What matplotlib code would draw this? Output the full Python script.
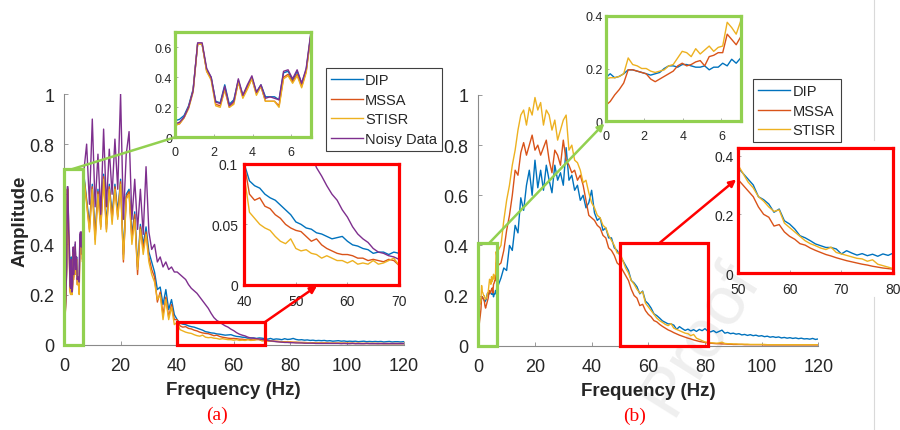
import numpy as np
import matplotlib
matplotlib.use("Agg")
import matplotlib.pyplot as plt
from matplotlib.patches import Rectangle, ConnectionPatch
from matplotlib.lines import Line2D

plt.rcParams['font.family'] = ['Liberation Sans', 'DejaVu Sans']

# ---------------- data ----------------
# fine grid for the 0-7 Hz zoom (31 samples)
freq_zoom = np.linspace(0, 7, 31)
# 1 Hz grid for 8-120 Hz
freq_main = np.arange(8, 121)

# panel (a), 0-7 Hz
dip_a_zoom = [0.11, 0.12, 0.145, 0.21, 0.32, 0.62, 0.62, 0.45, 0.40, 0.24, 0.23, 0.35, 0.22, 0.25, 0.38, 0.28,
              0.34, 0.40, 0.30, 0.35, 0.27, 0.27, 0.27, 0.25, 0.43, 0.44, 0.38, 0.44, 0.36, 0.45, 0.68]
mssa_a_zoom = [0.08, 0.09, 0.13, 0.20, 0.31, 0.62, 0.62, 0.44, 0.39, 0.22, 0.21, 0.32, 0.20, 0.23, 0.37, 0.27,
               0.33, 0.39, 0.29, 0.34, 0.24, 0.24, 0.24, 0.21, 0.40, 0.42, 0.37, 0.42, 0.34, 0.44, 0.67]
stisr_a_zoom = [0.08, 0.09, 0.13, 0.19, 0.30, 0.62, 0.62, 0.44, 0.38, 0.21, 0.20, 0.32, 0.20, 0.22, 0.37, 0.26,
                0.32, 0.39, 0.28, 0.34, 0.24, 0.24, 0.24, 0.20, 0.39, 0.41, 0.36, 0.41, 0.33, 0.43, 0.67]
noisy_a_zoom = [0.09, 0.10, 0.135, 0.20, 0.31, 0.63, 0.63, 0.46, 0.40, 0.235, 0.225, 0.34, 0.21, 0.24, 0.39, 0.28,
                0.35, 0.41, 0.30, 0.35, 0.26, 0.27, 0.26, 0.25, 0.44, 0.45, 0.39, 0.45, 0.36, 0.46, 0.69]

# panel (a), 8-120 Hz
noisy_a = [0.80, 0.56, 0.90, 0.55, 0.76, 0.52, 0.86, 0.55, 0.78, 0.60,
           0.82, 0.62, 1.00, 0.50, 0.76, 0.85, 0.50, 0.66, 0.46, 0.62,
           0.44, 0.71, 0.45, 0.38, 0.40, 0.33, 0.35, 0.31, 0.33, 0.30,
           0.31, 0.29, 0.29, 0.28, 0.27, 0.26, 0.24, 0.225, 0.215, 0.205,
           0.19, 0.175, 0.16, 0.145, 0.125, 0.108, 0.097, 0.09, 0.082, 0.075,
           0.07, 0.062, 0.056, 0.048, 0.042, 0.038, 0.035, 0.03, 0.027, 0.026,
           0.024, 0.023, 0.021, 0.019, 0.017, 0.015, 0.014, 0.012, 0.011, 0.010,
           0.009, 0.009, 0.008, 0.008, 0.007, 0.007, 0.007, 0.006, 0.006, 0.006,
           0.006, 0.005, 0.005, 0.005, 0.005, 0.005, 0.005, 0.005, 0.005, 0.005,
           0.004, 0.005, 0.004, 0.004, 0.005, 0.004, 0.004, 0.004, 0.004, 0.005,
           0.004, 0.004, 0.004, 0.004, 0.004, 0.004, 0.004, 0.004, 0.004, 0.004,
           0.004, 0.004, 0.004]
dip_a = [0.58, 0.48, 0.64, 0.44, 0.62, 0.49, 0.68, 0.48, 0.64, 0.52,
         0.64, 0.53, 0.66, 0.36, 0.60, 0.62, 0.44, 0.53, 0.31, 0.48,
         0.40, 0.47, 0.37, 0.33, 0.29, 0.22, 0.23, 0.16, 0.22, 0.14,
         0.18, 0.12, 0.10, 0.086, 0.082, 0.08, 0.075, 0.072, 0.07, 0.066,
         0.062, 0.058, 0.052, 0.05, 0.047, 0.046, 0.043, 0.042, 0.04, 0.038,
         0.039, 0.04, 0.036, 0.033, 0.032, 0.03, 0.029, 0.026, 0.027, 0.027,
         0.025, 0.027, 0.026, 0.024, 0.022, 0.025, 0.021, 0.023, 0.022, 0.020,
         0.024, 0.021, 0.022, 0.025, 0.021, 0.019, 0.020, 0.018, 0.019, 0.017,
         0.018, 0.016, 0.017, 0.016, 0.017, 0.015, 0.016, 0.014, 0.015, 0.016,
         0.014, 0.015, 0.013, 0.014, 0.013, 0.014, 0.012, 0.013, 0.014, 0.012,
         0.013, 0.012, 0.013, 0.012, 0.013, 0.011, 0.012, 0.013, 0.011, 0.012,
         0.012, 0.011, 0.012]
mssa_a = [0.57, 0.46, 0.63, 0.42, 0.61, 0.47, 0.67, 0.46, 0.63, 0.50,
          0.63, 0.51, 0.65, 0.33, 0.59, 0.61, 0.42, 0.52, 0.28, 0.47,
          0.38, 0.45, 0.35, 0.30, 0.27, 0.17, 0.21, 0.12, 0.19, 0.11,
          0.16, 0.10, 0.10, 0.075, 0.07, 0.072, 0.065, 0.063, 0.058, 0.055,
          0.05, 0.047, 0.045, 0.044, 0.04, 0.036, 0.038, 0.033, 0.03, 0.028,
          0.026, 0.025, 0.025, 0.024, 0.022, 0.022, 0.02, 0.021, 0.02, 0.019,
          0.021, 0.02, 0.016, 0.017, 0.016, 0.015, 0.014, 0.014, 0.013, 0.012,
          0.012, 0.011, 0.011, 0.010, 0.010, 0.009, 0.009, 0.009, 0.008, 0.008,
          0.008, 0.007, 0.007, 0.007, 0.007, 0.007, 0.006, 0.006, 0.006, 0.006,
          0.006, 0.006, 0.006, 0.006, 0.006, 0.005, 0.006, 0.005, 0.005, 0.005,
          0.005, 0.005, 0.005, 0.005, 0.005, 0.005, 0.005, 0.005, 0.005, 0.005,
          0.005, 0.005, 0.005]
stisr_a = [0.56, 0.45, 0.62, 0.40, 0.60, 0.46, 0.66, 0.45, 0.62, 0.48,
           0.62, 0.50, 0.64, 0.34, 0.58, 0.60, 0.40, 0.50, 0.30, 0.46,
           0.36, 0.44, 0.33, 0.28, 0.25, 0.18, 0.20, 0.10, 0.18, 0.10,
           0.15, 0.08, 0.09, 0.06, 0.055, 0.05, 0.047, 0.045, 0.04, 0.036,
           0.034, 0.038, 0.03, 0.028, 0.029, 0.026, 0.025, 0.022, 0.024, 0.022,
           0.02, 0.02, 0.018, 0.02, 0.017, 0.018, 0.017, 0.02, 0.017, 0.018,
           0.02, 0.022, 0.016, 0.017, 0.015, 0.014, 0.013, 0.013, 0.012, 0.011,
           0.011, 0.010, 0.010, 0.009, 0.009, 0.009, 0.008, 0.008, 0.008, 0.008,
           0.007, 0.007, 0.007, 0.006, 0.007, 0.006, 0.006, 0.006, 0.006, 0.006,
           0.006, 0.005, 0.006, 0.005, 0.005, 0.005, 0.005, 0.005, 0.005, 0.005,
           0.005, 0.005, 0.005, 0.004, 0.005, 0.004, 0.004, 0.004, 0.004, 0.004,
           0.004, 0.004, 0.004]

# panel (b), 0-7 Hz
dip_b_zoom = [0.165, 0.18, 0.165, 0.17, 0.18, 0.195, 0.195, 0.19, 0.185, 0.18, 0.175, 0.18, 0.185, 0.20, 0.21, 0.21,
              0.205, 0.215, 0.215, 0.21, 0.205, 0.205, 0.21, 0.195, 0.205, 0.205, 0.22, 0.21, 0.235, 0.22, 0.24]
mssa_b_zoom = [0.06, 0.075, 0.10, 0.12, 0.145, 0.195, 0.195, 0.19, 0.185, 0.18, 0.16, 0.15, 0.16, 0.17, 0.18, 0.19,
               0.21, 0.22, 0.21, 0.215, 0.225, 0.23, 0.21, 0.245, 0.25, 0.26, 0.26, 0.33, 0.31, 0.29, 0.32]
stisr_b_zoom = [0.16, 0.165, 0.165, 0.17, 0.18, 0.24, 0.215, 0.21, 0.20, 0.20, 0.19, 0.185, 0.19, 0.195, 0.21, 0.215,
                0.24, 0.265, 0.26, 0.245, 0.275, 0.255, 0.27, 0.285, 0.265, 0.28, 0.285, 0.375, 0.355, 0.33, 0.38]

# panel (b), 8-120 Hz
dip_b = [0.27, 0.31, 0.30, 0.40, 0.38, 0.48, 0.45, 0.59, 0.54, 0.64,
         0.70, 0.60, 0.74, 0.63, 0.70, 0.62, 0.72, 0.66, 0.61, 0.72,
         0.66, 0.69, 0.64, 0.79, 0.66, 0.68, 0.62, 0.64, 0.58, 0.60,
         0.55, 0.57, 0.62, 0.53, 0.50, 0.51, 0.46, 0.47, 0.43, 0.43,
         0.39, 0.38, 0.36, 0.34, 0.32, 0.30, 0.26, 0.25, 0.235, 0.207,
         0.218, 0.178, 0.167, 0.15, 0.127, 0.12, 0.11, 0.099, 0.093, 0.087,
         0.087, 0.082, 0.065, 0.076, 0.068, 0.061, 0.066, 0.059, 0.064, 0.057,
         0.065, 0.06, 0.068, 0.058, 0.055, 0.06, 0.052, 0.057, 0.062, 0.05,
         0.053, 0.048, 0.05, 0.046, 0.048, 0.043, 0.045, 0.041, 0.044, 0.04,
         0.042, 0.038, 0.04, 0.036, 0.038, 0.034, 0.036, 0.033, 0.035, 0.031,
         0.033, 0.03, 0.032, 0.029, 0.031, 0.028, 0.03, 0.027, 0.028, 0.026,
         0.029, 0.025, 0.027]
mssa_b = [0.33, 0.38, 0.46, 0.52, 0.60, 0.70, 0.68, 0.77, 0.81, 0.76,
          0.80, 0.84, 0.78, 0.80, 0.76, 0.79, 0.82, 0.74, 0.69, 0.78,
          0.76, 0.72, 0.82, 0.74, 0.72, 0.69, 0.70, 0.66, 0.68, 0.64,
          0.58, 0.52, 0.51, 0.50, 0.48, 0.47, 0.44, 0.43, 0.39, 0.38,
          0.36, 0.33, 0.32, 0.30, 0.28, 0.26, 0.225, 0.20, 0.19, 0.16,
          0.165, 0.14, 0.125, 0.115, 0.10, 0.095, 0.085, 0.077, 0.07, 0.063,
          0.058, 0.052, 0.047, 0.042, 0.038, 0.034, 0.03, 0.027, 0.023, 0.02,
          0.017, 0.015, 0.013, 0.011, 0.010, 0.009, 0.008, 0.008, 0.007, 0.007,
          0.006, 0.006, 0.005, 0.005, 0.005, 0.005, 0.004, 0.004, 0.004, 0.004,
          0.004, 0.004, 0.004, 0.003, 0.003, 0.003, 0.003, 0.003, 0.003, 0.003,
          0.003, 0.003, 0.003, 0.003, 0.003, 0.003, 0.003, 0.003, 0.003, 0.003,
          0.003, 0.003, 0.003]
stisr_b = [0.40, 0.50, 0.58, 0.64, 0.72, 0.78, 0.86, 0.92, 0.94, 0.88,
           0.95, 0.92, 0.99, 0.94, 0.97, 0.88, 0.94, 0.92, 0.86, 0.90,
           0.82, 0.86, 0.90, 0.92, 0.78, 0.80, 0.74, 0.73, 0.70, 0.65,
           0.66, 0.61, 0.57, 0.55, 0.52, 0.51, 0.48, 0.47, 0.44, 0.42,
           0.40, 0.37, 0.37, 0.34, 0.31, 0.29, 0.26, 0.245, 0.225, 0.21,
           0.215, 0.17, 0.155, 0.14, 0.125, 0.11, 0.10, 0.093, 0.085, 0.08,
           0.088, 0.07, 0.065, 0.06, 0.055, 0.05, 0.048, 0.04, 0.045, 0.03,
           0.025, 0.02, 0.015, 0.013, 0.012, 0.011, 0.010, 0.011, 0.014, 0.009,
           0.008, 0.008, 0.007, 0.007, 0.006, 0.006, 0.006, 0.006, 0.005, 0.005,
           0.005, 0.005, 0.005, 0.005, 0.004, 0.004, 0.004, 0.004, 0.004, 0.004,
           0.004, 0.004, 0.004, 0.004, 0.004, 0.004, 0.004, 0.004, 0.004, 0.004,
           0.004, 0.004, 0.004]

labels_a = ['DIP', 'MSSA', 'STISR', 'Noisy Data']
labels_b = ['DIP', 'MSSA', 'STISR']
main_xticks = [0, 20, 40, 60, 80, 100, 120]
main_xticklabels = ['0', '20', '40', '60', '80', '100', '120']
main_yticks = [0, 0.2, 0.4, 0.6, 0.8, 1.0]
main_yticklabels = ['0', '0.2', '0.4', '0.6', '0.8', '1']

# ---------------- style ----------------
C_DIP, C_MSSA, C_STISR, C_NOISY = '#0072BD', '#D95319', '#EDB120', '#7E2F8E'
GREEN, RED = '#92D050', '#FF0000'
TXT = '#262626'
W, H = 900, 431
LW = 1.0

fig = plt.figure(figsize=(9, 4.31), dpi=100)


def px(l, t, r, b):
    return [l / W, 1 - b / H, (r - l) / W, (b - t) / H]


def style_main(ax):
    ax.set_xlim(0, 120)
    ax.set_ylim(0, 1)
    ax.patch.set_alpha(0)
    for s in ['top', 'right']:
        ax.spines[s].set_visible(False)
    for s in ['left', 'bottom']:
        ax.spines[s].set_color('#8a8a8a')
        ax.spines[s].set_linewidth(0.8)
    ax.set_xticks(main_xticks)
    ax.set_xticklabels(main_xticklabels)
    ax.set_yticks(main_yticks)
    ax.set_yticklabels(main_yticklabels)
    ax.tick_params(direction='in', length=3, width=0.6, color='#8a8a8a',
                   labelsize=13, labelcolor=TXT)
    ax.tick_params(axis='x', pad=9)
    ax.tick_params(axis='y', pad=7)


def style_inset(ax, color, xlim, ylim, xt, xtl, yt, ytl, fs, xpad, ypad):
    ax.set_xlim(xlim)
    ax.set_ylim(ylim)
    for s in ax.spines.values():
        s.set_color(color)
        s.set_linewidth(2.3)
    ax.set_xticks(xt)
    ax.set_xticklabels(xtl)
    ax.set_yticks(yt)
    ax.set_yticklabels(ytl)
    ax.tick_params(direction='in', length=2, width=0.5, color='#8a8a8a',
                   labelsize=fs, labelcolor=TXT)
    ax.tick_params(axis='x', pad=xpad)
    ax.tick_params(axis='y', pad=ypad)


freq_a = np.concatenate([freq_zoom, freq_main])

# watermark (behind everything)
fig.text(700 / W, 1 - 338 / H, 'Proof', rotation=58, fontsize=50, color='#efefef',
         ha='center', va='center', zorder=-1)

# ---------------- panel (a) ----------------
ax_a = fig.add_axes(px(64, 95, 403.5, 345.7))
style_main(ax_a)
la = []
for z, m, c in [(dip_a_zoom, dip_a, C_DIP), (mssa_a_zoom, mssa_a, C_MSSA),
                (stisr_a_zoom, stisr_a, C_STISR), (noisy_a_zoom, noisy_a, C_NOISY)]:
    l, = ax_a.plot(freq_a, np.concatenate([z, m]), color=c, lw=LW)
    la.append(l)
ax_a.add_patch(Rectangle((0, 0), 6.7, 0.7, fill=False, ec=GREEN, lw=2.3, zorder=5, clip_on=False))
ax_a.add_patch(Rectangle((40, 0), 31, 0.09, fill=False, ec=RED, lw=2.3, zorder=5, clip_on=False))

leg_a = ax_a.legend(la, labels_a, loc='upper left', bbox_to_anchor=(325.7 / W, 1 - 69.3 / H),
                    bbox_transform=fig.transFigure, fontsize=10.5, frameon=True, fancybox=False,
                    edgecolor='#404040', framealpha=1, handlelength=2.2, handletextpad=0.15,
                    labelspacing=0.38, borderpad=0.35, borderaxespad=0)
leg_a.get_frame().set_linewidth(0.8)
for t in leg_a.get_texts():
    t.set_color(TXT)

ins_ag = fig.add_axes(px(175, 33.3, 310.7, 138.3))
for z, c in [(dip_a_zoom, C_DIP), (mssa_a_zoom, C_MSSA), (stisr_a_zoom, C_STISR), (noisy_a_zoom, C_NOISY)]:
    ins_ag.plot(freq_zoom, z, color=c, lw=LW)
style_inset(ins_ag, GREEN, (0, 7), (0, 0.7), [0, 2, 4, 6], ['0', '2', '4', '6'],
            [0, 0.2, 0.4, 0.6], ['0', '0.2', '0.4', '0.6'], 9, 6.5, 2)

ins_ar = fig.add_axes(px(244.3, 165, 399, 285.7))
for z, m, c in [(dip_a_zoom, dip_a, C_DIP), (mssa_a_zoom, mssa_a, C_MSSA),
                (stisr_a_zoom, stisr_a, C_STISR), (noisy_a_zoom, noisy_a, C_NOISY)]:
    ins_ar.plot(freq_a, np.concatenate([z, m]), color=c, lw=LW)
style_inset(ins_ar, RED, (40, 70), (0, 0.1), [40, 50, 60, 70], ['40', '50', '60', '70'],
            [0, 0.05, 0.1], ['0', '0.05', '0.1'], 10, 6.5, 4.5)

fig.add_artist(ConnectionPatch(xyA=(2.8, 0.7), coordsA=ax_a.transData, xyB=(0, 0),
                               coordsB=ins_ag.transAxes, color=GREEN, lw=1.8, zorder=6))
fig.add_artist(ConnectionPatch(xyA=(71, 0.09), coordsA=ax_a.transData, xyB=(0.47, -0.01),
                               coordsB=ins_ar.transAxes, color=RED, lw=1.8, zorder=6,
                               arrowstyle='-|>', mutation_scale=10, shrinkA=0, shrinkB=0))

# ---------------- panel (b) ----------------
ax_b = fig.add_axes(px(478.3, 96, 818.3, 346.7))
style_main(ax_b)
lb = []
for z, m, c in [(dip_b_zoom, dip_b, C_DIP), (mssa_b_zoom, mssa_b, C_MSSA), (stisr_b_zoom, stisr_b, C_STISR)]:
    l, = ax_b.plot(freq_a, np.concatenate([z, m]), color=c, lw=LW)
    lb.append(l)
ax_b.add_patch(Rectangle((0, 0), 6.7, 0.41, fill=False, ec=GREEN, lw=2.3, zorder=5, clip_on=False))
ax_b.add_patch(Rectangle((50, 0), 31, 0.41, fill=False, ec=RED, lw=2.3, zorder=5, clip_on=False))

leg_b = ax_b.legend(lb, labels_b, loc='upper left', bbox_to_anchor=(753.3 / W, 1 - 80 / H),
                    bbox_transform=fig.transFigure, fontsize=10.5, frameon=True, fancybox=False,
                    edgecolor='#404040', framealpha=1, handlelength=2.2, handletextpad=0.15,
                    labelspacing=0.38, borderpad=0.35, borderaxespad=0)
leg_b.get_frame().set_linewidth(0.8)
for t in leg_b.get_texts():
    t.set_color(TXT)

ins_bg = fig.add_axes(px(605.7, 16.7, 740.7, 122.3))
for z, c in [(dip_b_zoom, C_DIP), (mssa_b_zoom, C_MSSA), (stisr_b_zoom, C_STISR)]:
    ins_bg.plot(freq_zoom, z, color=c, lw=LW)
style_inset(ins_bg, GREEN, (0, 7), (0, 0.4), [0, 2, 4, 6], ['0', '2', '4', '6'],
            [0, 0.2, 0.4], ['0', '0.2', '0.4'], 9, 6.5, 2)

ins_br = fig.add_axes(px(737.7, 149.3, 893.3, 274))
for z, m, c in [(dip_b_zoom, dip_b, C_DIP), (mssa_b_zoom, mssa_b, C_MSSA), (stisr_b_zoom, stisr_b, C_STISR)]:
    ins_br.plot(freq_a, np.concatenate([z, m]), color=c, lw=LW)
style_inset(ins_br, RED, (50, 80), (0, 0.425), [50, 60, 70, 80], ['50', '60', '70', '80'],
            [0, 0.2, 0.4], ['0', '0.2', '0.4'], 10, 6.5, 3)

fig.add_artist(ConnectionPatch(xyA=(3.9, 0.41), coordsA=ax_b.transData, xyB=(-0.01, -0.02),
                               coordsB=ins_bg.transAxes, color=GREEN, lw=1.8, zorder=6,
                               arrowstyle='-|>', mutation_scale=10, shrinkA=0, shrinkB=0))
fig.add_artist(ConnectionPatch(xyA=(64, 0.41), coordsA=ax_b.transData, xyB=(-0.01, 0.75),
                               coordsB=ins_br.transAxes, color=RED, lw=1.8, zorder=6,
                               arrowstyle='-|>', mutation_scale=10, shrinkA=0, shrinkB=0))

# ---------------- labels ----------------
fig.text(20 / W, 1 - 221 / H, 'Amplitude', rotation=90, fontsize=13.5, fontweight='bold',
         color=TXT, ha='center', va='center')
fig.text(233.7 / W, 1 - 391 / H, 'Frequency (Hz)', fontsize=13.5, fontweight='bold',
         color=TXT, ha='center', va='center')
fig.text(648.3 / W, 1 - 392 / H, 'Frequency (Hz)', fontsize=13.5, fontweight='bold',
         color=TXT, ha='center', va='center')
fig.text(216.7 / W, 1 - 415 / H, '(a)', fontsize=14, color=RED, family='Liberation Serif',
         ha='center', va='center')
fig.text(635 / W, 1 - 416 / H, '(b)', fontsize=14, color=RED, family='Liberation Serif',
         ha='center', va='center')

# page edge line
fig.add_artist(Line2D([874 / W, 874 / W], [1, 1 - 141 / H], transform=fig.transFigure,
                      color='#d9d9d9', lw=0.8))
fig.add_artist(Line2D([874 / W, 874 / W], [1 - 298 / H, 0], transform=fig.transFigure,
                      color='#d9d9d9', lw=0.8))

fig.savefig('out.png', dpi=100)
